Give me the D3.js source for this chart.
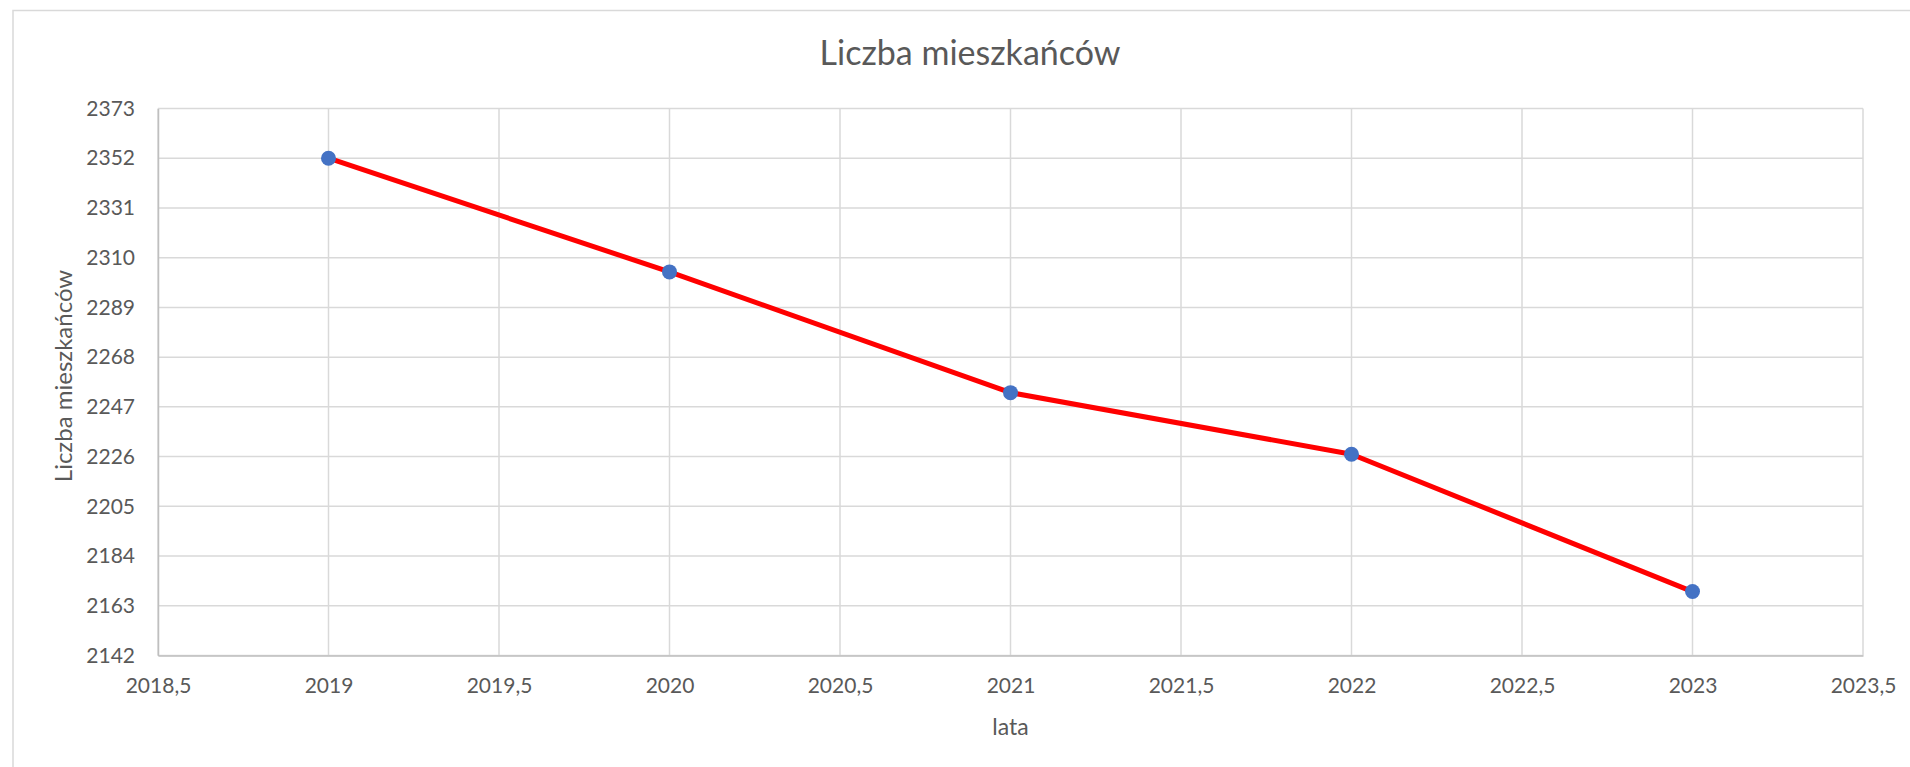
<!DOCTYPE html>
<html>
<head>
<meta charset="utf-8">
<script src="https://cdn.jsdelivr.net/npm/d3@7"></script>
<style>
  body { margin: 0; background: #fff; }
  text { font-family: Lato, "Liberation Sans", sans-serif; fill: #595959; }
</style>
</head>
<body>
<svg id="chart" width="1910" height="767"></svg>
<script>
const years = [2019, 2020, 2021, 2022, 2023];
const residents = [2352, 2304, 2253, 2227, 2169];
const yTicks = [2142, 2163, 2184, 2205, 2226, 2247, 2268, 2289, 2310, 2331, 2352, 2373];
const xTicks = [2018.5, 2019, 2019.5, 2020, 2020.5, 2021, 2021.5, 2022, 2022.5, 2023, 2023.5];
const chartTitle = "Liczba mieszkańców";
const xTitle = "lata";
const yTitle = "Liczba mieszkańców";

const svg = d3.select("#chart");
const plotLeft = 158, plotRight = 1863, plotTop = 108.5, plotBottom = 655.5;

// chart border (only top and left edge fall inside the picture)
svg.append("rect")
    .attr("x", 13).attr("y", 10.5)
    .attr("width", 1950).attr("height", 800)
    .attr("fill", "none")
    .attr("stroke", "#d9d9d9")
    .attr("stroke-width", 1.5);

const xScale = d3.scaleLinear().domain([2018.5, 2023.5]).range([plotLeft, plotRight]);
const yScale = d3.scaleLinear().domain([2142, 2373]).range([plotBottom, plotTop]);

// gridlines - horizontal
svg.append("g")
    .selectAll("line")
    .data(yTicks)
    .enter()
    .append("line")
    .attr("x1", plotLeft).attr("x2", plotRight)
    .attr("y1", d => yScale(d)).attr("y2", d => yScale(d))
    .attr("stroke", "#d9d9d9")
    .attr("stroke-width", 1.5);

// gridlines - vertical
svg.append("g")
    .selectAll("line")
    .data(xTicks)
    .enter()
    .append("line")
    .attr("x1", d => xScale(d)).attr("x2", d => xScale(d))
    .attr("y1", plotTop).attr("y2", plotBottom)
    .attr("stroke", "#d9d9d9")
    .attr("stroke-width", 1.5);

// axis - y
const yAxis = svg.append("g")
    .attr("transform", `translate(${plotLeft}, 0)`)
    .call(d3.axisLeft(yScale).tickValues(yTicks).tickSize(0).tickPadding(23).tickFormat(d3.format("d")));
yAxis.select(".domain").attr("stroke", "#bfbfbf").attr("stroke-width", 1.5);
yAxis.selectAll("text")
    .attr("font-size", "21px")
    .attr("font-family", "Lato, 'Liberation Sans', sans-serif")
    .attr("fill", "#595959");

// axis - x
const xAxis = svg.append("g")
    .attr("transform", `translate(0, ${plotBottom})`)
    .call(d3.axisBottom(xScale).tickValues(xTicks).tickSize(0).tickPadding(23)
      .tickFormat(d => String(d).replace(".", ",")));
xAxis.select(".domain").attr("stroke", "#bfbfbf").attr("stroke-width", 1.5);
xAxis.selectAll("text")
    .attr("font-size", "21px")
    .attr("font-family", "Lato, 'Liberation Sans', sans-serif")
    .attr("fill", "#595959");

// line
const line = d3.line()
    .x((d, i) => xScale(years[i]))
    .y(d => yScale(d));

svg.append("path")
    .datum(residents)
    .attr("d", line)
    .attr("fill", "none")
    .attr("stroke", "#ff0000")
    .attr("stroke-width", 5)
    .attr("stroke-linejoin", "round");

// markers
svg.append("g")
    .selectAll("circle")
    .data(residents)
    .enter()
    .append("circle")
    .attr("cx", (d, i) => xScale(years[i]))
    .attr("cy", d => yScale(d))
    .attr("r", 7.5)
    .attr("fill", "#4472c4");

// titles
svg.append("text")
    .attr("x", 970).attr("y", 65)
    .attr("text-anchor", "middle")
    .attr("font-size", "34px")
    .text(chartTitle);

svg.append("text")
    .attr("x", (plotLeft + plotRight) / 2).attr("y", 735)
    .attr("text-anchor", "middle")
    .attr("font-size", "23px")
    .text(xTitle);

svg.append("text")
    .attr("transform", `translate(72, 376) rotate(-90)`)
    .attr("text-anchor", "middle")
    .attr("font-size", "24px")
    .text(yTitle);
</script>
</body>
</html>
